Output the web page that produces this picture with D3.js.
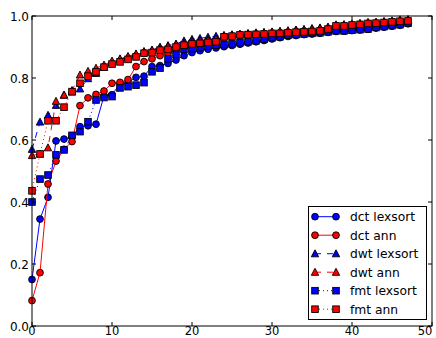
<!DOCTYPE html>
<html><head><meta charset="utf-8">
<script src="https://cdn.jsdelivr.net/npm/d3@7"></script>
<style>body{margin:0;background:#fff}svg{display:block}text{font-family:"DejaVu Sans",sans-serif}</style>
</head><body><svg id="c" width="436" height="338"></svg>
<script>
const xs = d3.range(48);
const dctLexsort = [0.15,0.345,0.415,0.597,0.603,0.610,0.643,0.646,0.651,0.742,0.746,0.782,0.785,0.802,0.806,0.837,0.840,0.847,0.858,0.872,0.882,0.888,0.893,0.897,0.901,0.905,0.909,0.913,0.917,0.921,0.926,0.930,0.934,0.937,0.940,0.942,0.944,0.947,0.950,0.951,0.953,0.955,0.957,0.961,0.964,0.967,0.970,0.975];
const dctAnn = [0.082,0.172,0.458,0.532,0.570,0.595,0.711,0.736,0.747,0.758,0.783,0.786,0.795,0.837,0.853,0.862,0.872,0.880,0.890,0.898,0.903,0.906,0.910,0.914,0.928,0.932,0.936,0.938,0.939,0.940,0.942,0.943,0.945,0.946,0.947,0.948,0.950,0.956,0.965,0.966,0.969,0.971,0.974,0.975,0.977,0.979,0.981,0.982];
const dwtLexsort = [0.57,0.658,0.68,0.712,0.745,0.755,0.765,0.798,0.815,0.835,0.85,0.86,0.868,0.876,0.884,0.89,0.90,0.905,0.91,0.92,0.925,0.928,0.932,0.935,0.938,0.94,0.942,0.944,0.946,0.947,0.948,0.95,0.952,0.955,0.957,0.96,0.962,0.964,0.966,0.968,0.97,0.972,0.975,0.977,0.98,0.982,0.984,0.986];
const dwtAnn = [0.55,0.555,0.575,0.725,0.745,0.76,0.81,0.822,0.832,0.842,0.855,0.862,0.87,0.878,0.886,0.89,0.897,0.902,0.908,0.912,0.917,0.92,0.923,0.926,0.935,0.938,0.941,0.943,0.945,0.947,0.949,0.951,0.953,0.955,0.956,0.958,0.96,0.964,0.972,0.973,0.975,0.977,0.98,0.981,0.983,0.985,0.988,0.989];
const fmtLexsort = [0.40,0.474,0.487,0.552,0.568,0.615,0.627,0.659,0.729,0.737,0.740,0.768,0.772,0.777,0.785,0.82,0.832,0.862,0.876,0.892,0.895,0.898,0.903,0.906,0.908,0.91,0.914,0.917,0.92,0.925,0.93,0.933,0.938,0.94,0.942,0.944,0.946,0.949,0.952,0.952,0.954,0.956,0.958,0.963,0.966,0.969,0.972,0.977];
const fmtAnn = [0.436,0.555,0.662,0.662,0.706,0.756,0.783,0.806,0.82,0.835,0.845,0.852,0.86,0.868,0.88,0.882,0.89,0.892,0.90,0.906,0.91,0.912,0.915,0.917,0.933,0.935,0.939,0.94,0.941,0.942,0.944,0.944,0.946,0.948,0.949,0.95,0.952,0.958,0.968,0.968,0.971,0.973,0.976,0.977,0.979,0.981,0.983,0.984];
const seriesNames = ["dct lexsort","dct ann","dwt lexsort","dwt ann","fmt lexsort","fmt ann"];
const seriesValues = [dctLexsort,dctAnn,dwtLexsort,dwtAnn,fmtLexsort,fmtAnn];
const seriesColors = ["#0000ff","#ff0000","#0000ff","#ff0000","#0000ff","#ff0000"];
const seriesMarkers = ["circle","circle","triangle","triangle","square","square"];
const seriesDash = [null,null,"6,6","6,6","1,3","1,3"];
const xTicks = [0,10,20,30,40,50];
const yTicks = [0.0,0.2,0.4,0.6,0.8,1.0];

const svg = d3.select("#c");
const L=32,R=432,T=16,B=326;
const x = d3.scaleLinear().domain([0,50]).range([L,R]);
const y = d3.scaleLinear().domain([0,1]).range([B,T]);

function marker(g, type, cx, cy, color){
  const s = 3.3;
  let el;
  if(type==="circle") el = g.append("circle").attr("cx",cx).attr("cy",cy).attr("r",3.4);
  else if(type==="square") el = g.append("rect").attr("x",cx-s).attr("y",cy-s).attr("width",2*s).attr("height",2*s);
  else el = g.append("path").attr("d",`M${cx},${cy-3.9}L${cx+3.7},${cy+3.1}L${cx-3.7},${cy+3.1}Z`);
  el.attr("fill",color).attr("stroke","#000").attr("stroke-width",0.9);
}

const plot = svg.append("g");
seriesValues.forEach((vals,i)=>{
  const line = d3.line().x((d,j)=>x(xs[j])).y(d=>y(d));
  plot.append("path").datum(vals).attr("d",line).attr("fill","none")
    .attr("stroke",seriesColors[i]).attr("stroke-width",1)
    .attr("stroke-dasharray",seriesDash[i]);
  const mg = plot.append("g");
  vals.forEach((v,j)=>marker(mg,seriesMarkers[i],x(xs[j]),y(v),seriesColors[i]));
});

// frame
svg.append("rect").attr("x",L).attr("y",T).attr("width",R-L).attr("height",B-T)
  .attr("fill","none").attr("stroke","#000").attr("stroke-width",1);

// ticks
const ax = svg.append("g");
xTicks.forEach(t=>{
  ax.append("line").attr("x1",x(t)).attr("x2",x(t)).attr("y1",B).attr("y2",B-4).attr("stroke","#000");
  ax.append("line").attr("x1",x(t)).attr("x2",x(t)).attr("y1",T).attr("y2",T+4).attr("stroke","#000");
  ax.append("text").attr("x",Math.min(x(t),R-7)).attr("y",B+9).attr("text-anchor","middle").attr("font-size",11.5).text(t);
});
yTicks.forEach(t=>{
  ax.append("line").attr("x1",L).attr("x2",L+4).attr("y1",y(t)).attr("y2",y(t)).attr("stroke","#000");
  ax.append("line").attr("x1",R).attr("x2",R-4).attr("y1",y(t)).attr("y2",y(t)).attr("stroke","#000");
  ax.append("text").attr("x",L-3).attr("y",Math.min(y(t)+4.5,333)).attr("text-anchor","end").attr("font-size",12).text(t.toFixed(1));
});

// legend
const lg = svg.append("g");
lg.append("rect").attr("x",308.5).attr("y",206.5).attr("width",118).attr("height",113)
  .attr("fill","#fff").attr("stroke","#000").attr("stroke-width",1);
seriesNames.forEach((n,i)=>{
  const ly = 216.7 + i*18.5;
  lg.append("line").attr("x1",315).attr("x2",336).attr("y1",ly).attr("y2",ly)
    .attr("stroke",seriesColors[i]).attr("stroke-width",1).attr("stroke-dasharray",seriesDash[i]);
  marker(lg,seriesMarkers[i],315,ly,seriesColors[i]);
  marker(lg,seriesMarkers[i],336,ly,seriesColors[i]);
  lg.append("text").attr("x",350).attr("y",ly+4.5).attr("font-size",12.3).text(n);
});
</script></body></html>
